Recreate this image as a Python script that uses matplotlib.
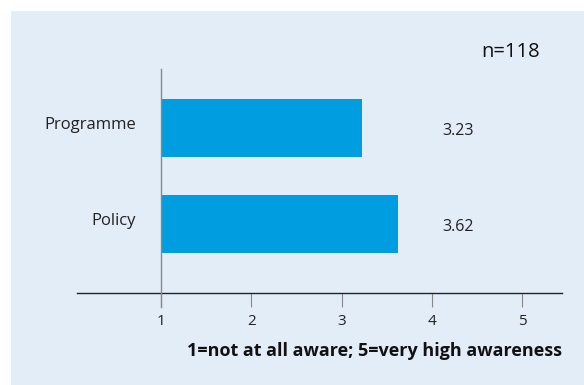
import matplotlib.pyplot as plt
from matplotlib.patches import Rectangle

# Mean awareness scores (1-5 scale)
categories = ["Policy", "Programme"]
scores = [3.62, 3.23]
x_ticks = [1, 2, 3, 4, 5]
sample_note = "n=118"
scale_note = "1=not at all aware; 5=very high awareness"

BG = "#e3edf8"
BAR = "#009ee0"

plt.rcParams["font.family"] = ["Open Sans", "DejaVu Sans"]

fig = plt.figure(figsize=(5.84, 3.85), dpi=100)
fig.patch.set_facecolor("white")
# light panel behind the chart, with a white margin top and left
fig.patches.append(Rectangle((11 / 584, 0), 1, 1 - 11 / 385,
                             transform=fig.transFigure, facecolor=BG,
                             edgecolor="none", zorder=-10))

ax = fig.add_axes([77 / 584, 1 - 293 / 385, 485 / 584, 224 / 385])
ax.set_facecolor("none")

ypos = list(range(len(categories)))
ax.barh(ypos, [s - 1 for s in scores], left=1, height=0.61, color=BAR, zorder=2)

ax.set_xlim(0.07, 5.44)
ax.set_ylim(-0.719, 1.615)

for y, s in zip(ypos, scores):
    ax.text(4.12, y - 0.03, f"{s:.2f}", ha="left", va="center", fontsize=11.5,
            color="#222222")
    # category names sit on the bar's centre line
    ax.text(0.72, y - 0.01, categories[y], ha="right", va="baseline",
            fontsize=12, color="#222222")

# baseline at 1, running a little below the x axis
ax.axvline(1, ymin=-14 / 224, ymax=1, color="#888888", lw=1.0,
           clip_on=False, zorder=3)

for side in ["top", "right", "left"]:
    ax.spines[side].set_visible(False)
ax.spines["bottom"].set_color("#222222")
ax.spines["bottom"].set_linewidth(1.0)

ax.set_yticks([])
ax.set_xticks(x_ticks)
ax.set_xticklabels([str(t) for t in x_ticks])
ax.tick_params(axis="x", direction="out", length=10, width=0.8,
               color="#888888", pad=5, labelsize=11, labelcolor="#222222")

fig.text(540 / 584, 1 - 52 / 385, sample_note, ha="right", va="center",
         fontsize=14.5, color="#111111")
fig.text(562 / 584, 1 - 351 / 385, scale_note, ha="right", va="center",
         fontsize=13, fontweight="bold", color="#111111")

fig.savefig("out.png", dpi=100, facecolor=fig.get_facecolor())
